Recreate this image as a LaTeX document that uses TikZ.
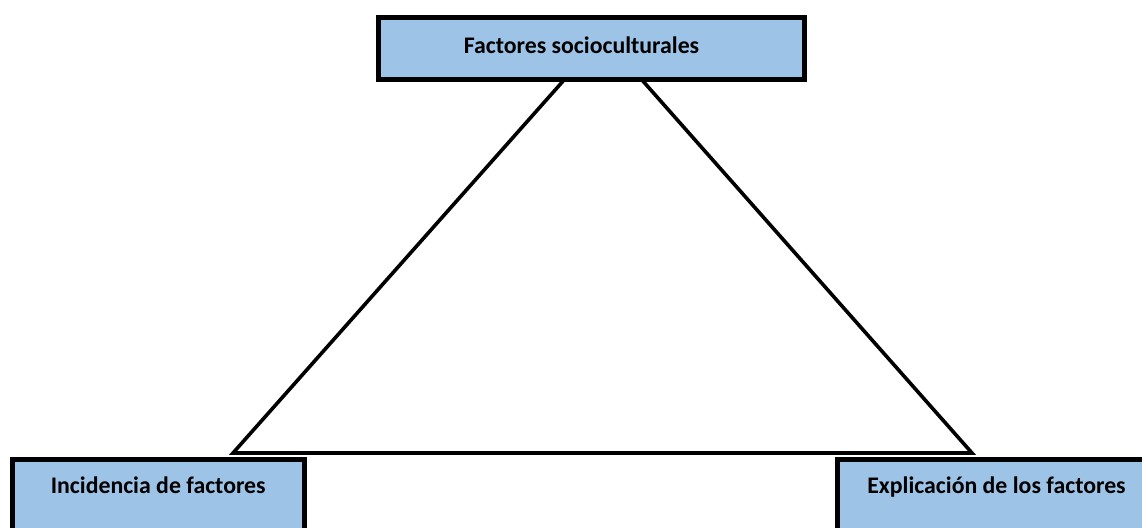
\documentclass[tikz,border=0pt]{standalone}
\usepackage{fontspec}
\setmainfont{Carlito}
\definecolor{boxblue}{HTML}{9DC3E6}
\begin{document}
\begin{tikzpicture}[x=1pt,y=-1pt,
  box/.style={draw=black, fill=boxblue, line width=5pt, rectangle, inner sep=0pt,
    font=\fontsize{23.8}{28}\selectfont\bfseries},
  tri/.style={draw=black, line width=3.6pt, line join=miter}]
\useasboundingbox (0,0) rectangle (1142,527);
\clip (0,0) rectangle (1142,527);
% top box: path x 378.5..804.5, y 17.5..79.5, baseline 53.3
\node[box, minimum width=426pt, text height=35.8pt, text depth=26.2pt, anchor=base] (top) at (591.5,53.3) {Factores socioculturales\kern20pt};
% bottom left box: path x 12..304.5, top 459.5, baseline 493
\node[box, minimum width=292.5pt, text height=33.5pt, text depth=70pt, anchor=base] (left) at (158.25,493) {Incidencia de factores};
% bottom right box: path x 837..1156, top 459.5, baseline 493
\node[box, minimum width=319pt, text height=33.5pt, text depth=70pt, anchor=base] (right) at (996.5,493) {Explicación de los factores};
% triangle
\coordinate (a) at (564,80);
\coordinate (b) at (233,453);
\coordinate (c) at (972,453);
\coordinate (d) at (642,80);
\draw[tri] (a) -- (b) -- (c) -- (d);
\end{tikzpicture}
\end{document}
